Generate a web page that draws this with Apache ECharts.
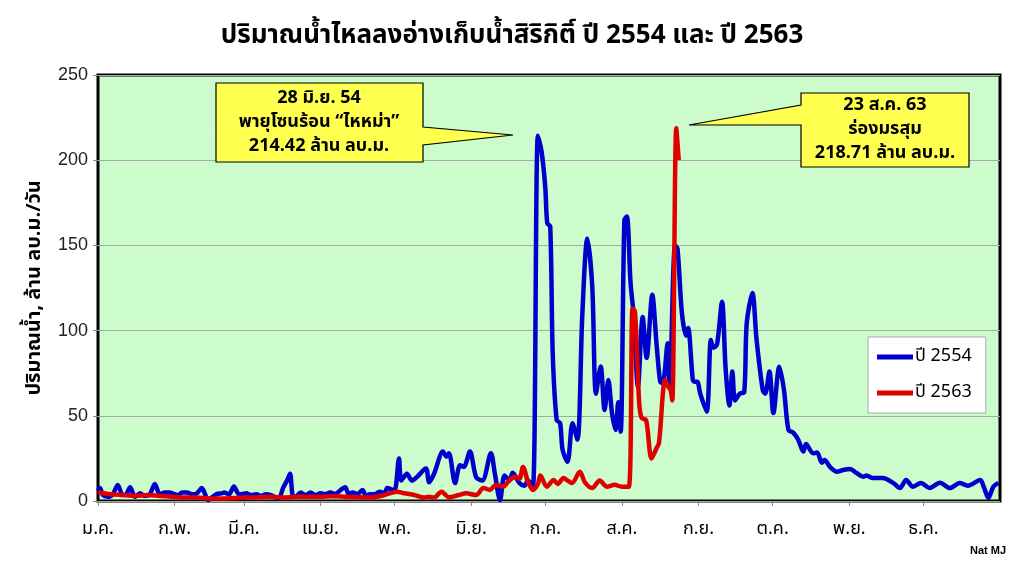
<!DOCTYPE html>
<html><head><meta charset="utf-8">
<script src="https://cdn.jsdelivr.net/npm/echarts@6/dist/echarts.min.js"></script>
<style>html,body{margin:0;padding:0;background:#fff}#c{width:1024px;height:570px}</style>
</head><body><div id="c"></div>
<script>
const monthStarts = [0, 31, 59, 90, 120, 151, 181, 212, 243, 273, 304, 334];
const monthLabels = ['ม.ค.','ก.พ.','มี.ค.','เม.ย.','พ.ค.','มิ.ย.','ก.ค.','ส.ค.','ก.ย.','ต.ค.','พ.ย.','ธ.ค.'];
const yTicks = [0, 50, 100, 150, 200, 250];
const seriesNames = ['ปี 2554', 'ปี 2563'];

// [day of year (0 = 1 Jan), million m3/day]
const blue2554 = [
[0,6],[0.8,7.6],[2,3.5],[4,2.5],[6,4],[8,9.4],[10,3.5],[11.5,4],[13,8],[15,2.5],[17,4.5],[19,3],[21,4],[23,10],[25,4],[27,5],[29,5],[31,4],[32.5,3.5],[34,5],[36,5],[38,4],[40,4.5],[42,7.6],[44.6,0.5],[46,2],[48,4],[50,4.5],[51,5],[53,4],[55,8.5],[57,4],[58,4],[60,4.5],[62,3.5],[64,4],[66,3],[68,4],[70,3.5],[73,1.5],[75,8],[76.5,12],[77.7,16],[79,2.5],[80.5,3],[82,5],[84,3.5],[86,5],[88,3.5],[90,4.5],[92,4],[94,5],[96,4],[97,5],[100,8],[101.5,4],[103,5],[105,4],[107,6.5],[108.5,3],[110,4],[112,4],[114,5.5],[116,4.5],[117,7.6],[118.5,7],[120,6],
[121.8,25],[122.7,12],[125,16],[127,12],[129,14],[132.7,19],[134,11],[136,16],[139.6,29],[141,26],[142,28],[144.5,10.5],[146.5,21],[148,20],[150.5,29],[153,14],[155.5,12],[159,28],[160.6,16],[162.7,0.5],[164.5,15],[166.5,12],[167.8,16.6],[170.5,10.5],[172.5,9],[174,12],[176,8.4],
[178,214.42],[179.5,205],[181,184],[181.8,163],[183,161],[184,87],[185.6,47.5],[187,45.7],[188,30],[190,23],[192,45.7],[194,36],[196,110],[198,154],[200,126],[201.5,63],[203.4,79],[205,53.4],[206.5,71],[208,51.6],[209.5,41.7],[210.5,58],[211.5,40.7],
[213,165],[214,167],[215.5,128],[216.7,110],[218.5,67],[220.4,108],[222,84],[224.3,121],[226,92.6],[227.5,70],[228.5,69],[230.5,92.6],[231.3,67],[233.5,150],[234.5,148],[236.3,110],[238,97],[238.8,101.5],[240.7,71],[241.5,70],[242.5,70],[243.7,63],[246.3,52.4],[248,94.5],[249,90],[250.5,92],[252.5,117],[254,77],[255.5,56],[256.7,76],[257.8,59],[259.7,63],[261.5,64],[262.5,104],[264.8,122],[266.5,94.5],[269,65],[270,63],[271.7,76],[273.3,51.6],[275.7,78.8],[277.6,65],[279.4,41.7],[281.4,40],[283.4,35.8],[285.4,29],[286.5,33.5],[289.4,28],[291,28.5],[292.9,22.5],[294,24],[296.2,20],[299,17.2],[301.5,18.2],[304.3,18.8],[307,16.4],[309.7,14.3],[311,15],[313.5,13.5],[317.5,13.5],[321.9,10.5],[324.5,7.6],[327,12.3],[329.8,8.4],[333,10.5],[336.5,7.6],[340.7,10.7],[344.7,7.6],[348.7,10.5],[352,9],[357,12.3],[358.5,8],[360.3,1.8],[362.3,8.4],[364.4,10.5]
];
const red2563 = [
[0,5],[5,4],[10,3.5],[15,3],[20,3.5],[25,3],[30,2.5],[35,2],[40,2],[45,1.5],[50,1.5],[55,1.8],[60,2],[65,2.2],[70,2.5],[75,2],[80,2.5],[85,2.5],[90,2.5],[95,2.8],[100,2.5],[105,2.2],[110,2],[113,2.5],[116,3.5],[118,4.5],[121,5.5],[124,4.5],[128,3.5],[132,2],[134,2.5],[136,2],[139,5.5],[142,2.2],[146,3.5],[149,4.5],[153,3.5],[156,7.6],[158.6,6.5],[161,9.4],[164,8.5],[166.5,12.3],[169,14.3],[170.5,13],[172,20],[174,11.3],[176,6.5],[178,10],[179,15],[181.6,8.4],[184.4,12.3],[186,10],[188.4,13.5],[190,12],[191.8,10.5],[195,17.2],[197,11],[200,7.6],[203,12],[206,8.4],[209,9.5],[212,8.4],[214.8,8.4],
[216.3,113],[217.3,111],[219,57.5],[220,48.7],[221.8,47.5],[224,25],[226,31],[227,34],[229.5,71],[230.8,67],[231.7,65],[232.4,59],[234,218.71],[235,200]
];

const thai = "'Noto Sans Thai','Noto Sans','DejaVu Sans',sans-serif";
const chart = echarts.init(document.getElementById('c'), null, {renderer: 'canvas'});

function callout(points, cx, lines, y0) {
  const els = [{
    type: 'polygon', shape: {points: points},
    style: {fill: '#ffff4f', stroke: '#000', lineWidth: 1.2}, z: 100
  }];
  lines.forEach((t, i) => els.push({
    type: 'text', x: cx, y: y0 + i * 24, z: 101,
    style: {text: t, fill: '#000', font: "bold 18px " + thai, textAlign: 'center', textVerticalAlign: 'middle'}
  }));
  return els;
}

const option = {
  backgroundColor: '#fff',
  animation: false,
  title: {
    text: 'ปริมาณน้ำไหลลงอ่างเก็บน้ำสิริกิติ์ ปี 2554 และ ปี 2563',
    left: 'center', top: 20,
    textStyle: {fontSize: 26, fontWeight: 'bold', color: '#000', fontFamily: "'Liberation Sans Narrow'," + thai}
  },
  grid: {left: 98, right: 24, top: 75, bottom: 69, show: true, backgroundColor: '#ccfbcc', borderColor: '#000', borderWidth: 3, z: 0},
  legend: {
    orient: 'vertical', left: 868, top: 337,
    backgroundColor: '#fff', borderColor: '#aaa', borderWidth: 1,
    padding: [11, 14, 11, 9], itemGap: 18, itemWidth: 36, itemHeight: 5,
    icon: 'rect',
    textStyle: {fontSize: 18, color: '#000', fontFamily: thai, padding: [0, 0, 0, -3]},
    data: seriesNames
  },
  xAxis: {
    type: 'value', min: 0, max: 365,
    axisLine: {show: false},
    axisTick: {show: true, length: 5, lineStyle: {color: '#888'}, customValues: monthStarts},
    axisLabel: {
      customValues: monthStarts, margin: 20, fontSize: 18, color: '#000', fontFamily: thai,
      formatter: v => monthLabels[monthStarts.indexOf(v)] || ''
    },
    splitLine: {show: false}
  },
  yAxis: {
    type: 'value', min: 0, max: 250, interval: 50,
    name: 'ปริมาณน้ำ, ล้าน ลบ.ม./วัน', nameLocation: 'middle', nameRotate: 90, nameGap: 52,
    nameTextStyle: {fontSize: 20, fontWeight: 'bold', color: '#000', fontFamily: thai},
    axisLine: {show: false},
    axisTick: {show: true, length: 5, lineStyle: {color: '#888'}},
    axisLabel: {fontSize: 18, color: '#222', margin: 10, fontFamily: "'Liberation Sans',Arial,sans-serif"},
    splitLine: {show: true, lineStyle: {color: '#a8a8a8', width: 1}}
  },
  series: [
    {name: seriesNames[0], type: 'line', data: blue2554, showSymbol: false, smooth: 0.3,
     color: '#0000cc', lineStyle: {width: 4.5, color: '#0000cc'}, z: 3},
    {name: seriesNames[1], type: 'line', data: red2563, showSymbol: false, smooth: 0.3,
     color: '#e00000', lineStyle: {width: 4.5, color: '#e00000'}, z: 4}
  ],
  graphic: [].concat(
    callout([[216,83],[423,83],[423,127],[513,135],[423,145],[423,162],[216,162]], 319,
      ['28 มิ.ย. 54', 'พายุโซนร้อน “ไหหม่า”', '214.42 ล้าน ลบ.ม.'], 99),
    callout([[801,93],[969,93],[969,167],[801,167],[801,125],[689,125],[801,105]], 885,
      ['23 ส.ค. 63', 'ร่องมรสุม', '218.71 ล้าน ลบ.ม.'], 106),
    [{type: 'text', right: 18, top: 545, z: 101,
      style: {text: 'Nat MJ', fill: '#000', font: "bold 11px 'Liberation Sans',Arial,sans-serif"}}]
  )
};
chart.setOption(option);
</script>
</body></html>
